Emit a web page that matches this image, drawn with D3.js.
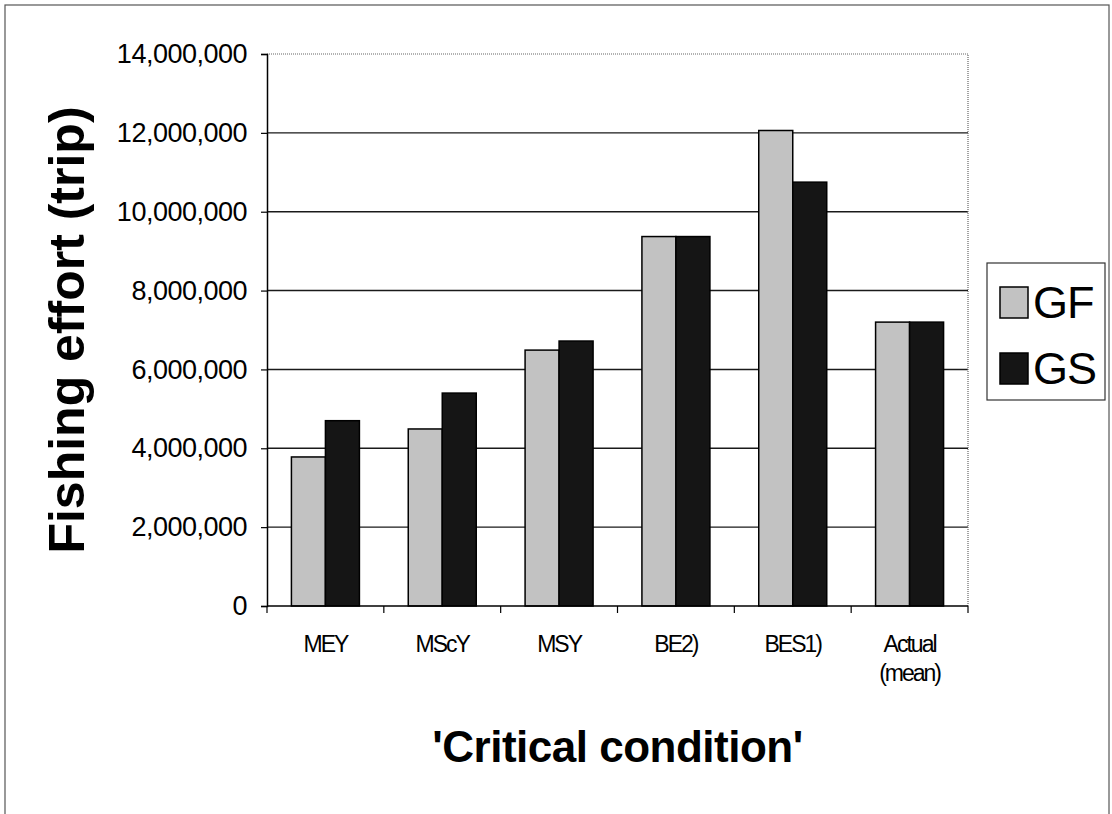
<!DOCTYPE html>
<html>
<head>
<meta charset="utf-8">
<script src="https://cdn.jsdelivr.net/npm/d3@7"></script>
<style>
  body { margin: 0; background: #fff; }
  svg { display: block; font-family: "Liberation Sans", Arial, sans-serif; }
</style>
</head>
<body>
<div id="chart"></div>
<script>
// data
const categories = ["MEY", "MScY", "MSY", "BE2)", "BES1)", "Actual (mean)"];
const categoryLines = [["MEY"], ["MScY"], ["MSY"], ["BE2)"], ["BES1)"], ["Actual", "(mean)"]];
const seriesNames = ["GF", "GS"];
const gfValues = [3780000, 4490000, 6490000, 9370000, 12060000, 7200000];
const gsValues = [4700000, 5400000, 6720000, 9370000, 10750000, 7200000];
const yTicks = [0, 2000000, 4000000, 6000000, 8000000, 10000000, 12000000, 14000000];

const width = 1112, height = 814;
const plot = { left: 267, right: 968, top: 54, bottom: 606 };
const fills = { GF: "#c2c2c2", GS: "#151515" };

const svg = d3.select("#chart").append("svg")
    .attr("width", width)
    .attr("height", height);

// outer frame of the chart
svg.append("rect")
    .attr("x", 5).attr("y", 5)
    .attr("width", 1104).attr("height", 830)
    .attr("fill", "none")
    .attr("stroke", "#555")
    .attr("stroke-width", 1.2);

const x0 = d3.scaleBand()
    .domain(categories)
    .range([plot.left, plot.right])
    .paddingInner(0.418)
    .paddingOuter(0.209);

const x1 = d3.scaleBand()
    .domain(seriesNames)
    .range([0, x0.bandwidth()]);

const y = d3.scaleLinear()
    .domain([0, 14000000])
    .range([plot.bottom, plot.top]);

// gridlines
svg.append("g")
    .selectAll("line")
    .data(yTicks.filter(d => d > 0 && d < 14000000))
    .join("line")
    .attr("x1", plot.left).attr("x2", plot.right)
    .attr("y1", d => y(d)).attr("y2", d => y(d))
    .attr("stroke", "#1a1a1a")
    .attr("stroke-width", 1.4);

// dotted plot border (top and right)
svg.append("path")
    .attr("d", `M${plot.left},${y(14000000)}H${plot.right}V${plot.bottom}`)
    .attr("fill", "none")
    .attr("stroke", "#666")
    .attr("stroke-width", 1.2)
    .attr("stroke-dasharray", "1,1");

// bars
const rows = categories.map((c, i) => ({ cat: c, values: [
    { name: "GF", value: gfValues[i] },
    { name: "GS", value: gsValues[i] }
] }));

svg.append("g")
    .selectAll("g")
    .data(rows)
    .join("g")
    .attr("transform", d => `translate(${x0(d.cat)},0)`)
    .selectAll("rect")
    .data(d => d.values)
    .join("rect")
    .attr("x", d => x1(d.name))
    .attr("y", d => y(d.value))
    .attr("width", x1.bandwidth())
    .attr("height", d => y(0) - y(d.value))
    .attr("fill", d => fills[d.name])
    .attr("stroke", "#000")
    .attr("stroke-width", 1.5);

// y axis
const yAxis = svg.append("g")
    .attr("transform", `translate(${plot.left},0)`)
    .call(d3.axisLeft(y)
        .tickValues(yTicks)
        .tickFormat(d3.format(","))
        .tickSize(6)
        .tickPadding(14));
yAxis.select(".domain").attr("stroke", "#000").attr("stroke-width", 1.5);
yAxis.selectAll(".tick line").attr("stroke", "#000").attr("stroke-width", 1.2);
yAxis.selectAll(".tick text")
    .attr("font-size", 27)
    .attr("letter-spacing", "-0.5px")
    .attr("fill", "#000")
    .attr("font-family", "Liberation Sans, Arial, sans-serif");

// x axis line and boundary ticks
const step = x0.step();
svg.append("line")
    .attr("x1", plot.left).attr("x2", plot.right)
    .attr("y1", plot.bottom).attr("y2", plot.bottom)
    .attr("stroke", "#000")
    .attr("stroke-width", 1.5);

svg.append("g")
    .selectAll("line")
    .data(d3.range(categories.length + 1))
    .join("line")
    .attr("x1", i => plot.left + i * step)
    .attr("x2", i => plot.left + i * step)
    .attr("y1", plot.bottom)
    .attr("y2", plot.bottom + 7)
    .attr("stroke", "#000")
    .attr("stroke-width", 1.2);

// category labels
svg.append("g")
    .selectAll("text")
    .data(categories)
    .join("text")
    .attr("x", d => x0(d) + x0.bandwidth() / 2)
    .attr("y", 652)
    .attr("text-anchor", "middle")
    .attr("font-size", 23)
    .attr("letter-spacing", "-2px")
    .each(function (d, i) {
        d3.select(this).selectAll("tspan")
            .data(categoryLines[i])
            .join("tspan")
            .attr("x", x0(d) + x0.bandwidth() / 2)
            .attr("dy", (t, j) => j === 0 ? 0 : 29)
            .text(t => t);
    });

// axis titles
svg.append("text")
    .attr("transform", `translate(84,${(plot.top + plot.bottom) / 2}) rotate(-90)`)
    .attr("text-anchor", "middle")
    .attr("font-size", 50)
    .attr("font-weight", "bold")
    .text("Fishing effort (trip)");

svg.append("text")
    .attr("x", (plot.left + plot.right) / 2)
    .attr("y", 762)
    .attr("text-anchor", "middle")
    .attr("font-size", 44)
    .attr("font-weight", "bold")
    .attr("letter-spacing", "-0.5px")
    .text("'Critical condition'");

// legend
const legend = svg.append("g");
legend.append("rect")
    .attr("x", 987).attr("y", 263)
    .attr("width", 118).attr("height", 137)
    .attr("fill", "#fff")
    .attr("stroke", "#333")
    .attr("stroke-width", 1.2);

const legendItems = legend.selectAll("g")
    .data(seriesNames)
    .join("g")
    .attr("transform", (d, i) => `translate(1000,${287 + i * 66})`);

legendItems.append("rect")
    .attr("width", 28).attr("height", 31)
    .attr("fill", d => fills[d])
    .attr("stroke", "#000")
    .attr("stroke-width", 1.5);

legendItems.append("text")
    .attr("x", 33)
    .attr("y", 31)
    .attr("font-size", 45)
    .attr("letter-spacing", "-1px")
    .text(d => d);
</script>
</body>
</html>
